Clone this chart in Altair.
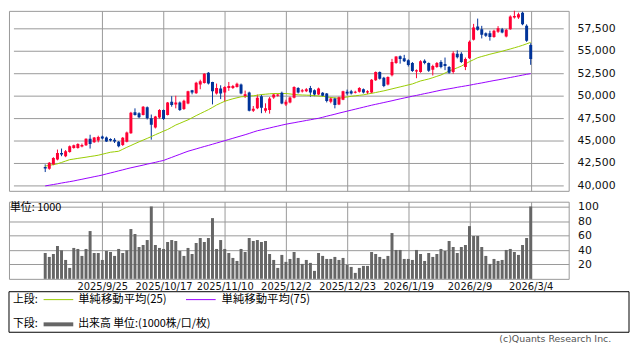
import json
import altair as alt
import pandas as pd

# ---- tick labels (trading-day index -> date) ----
tick_idx = [14, 29, 44, 59, 74, 89, 104, 119]
tick_labels = ["2025/9/25", "2025/10/17", "2025/11/10", "2025/12/2",
               "2025/12/23", "2026/1/19", "2026/2/9", "2026/3/4"]
price_ticks = [40000, 42500, 45000, 47500, 50000, 52500, 55000, 57500]
vol_ticks = [20, 40, 60, 80, 100]

opens = [
    42096, 41908, 42390, 42940, 43670, 43310, 43780, 44230, 44230, 44380,
    44520, 45260, 44850, 45070, 45515, 45400, 45220, 45150, 44930, 44560,
    44930, 45880, 48200, 48090, 47910, 48750, 47530, 46510, 47610, 48460,
    47910, 49375, 49080, 49300, 48570, 49190, 50660, 50330, 51290, 51470,
    52610, 51580, 50290, 50850, 50400, 50920, 50920, 51030, 51290, 50000,
    50400, 48380, 48640, 50000, 48380, 48460, 49850, 50040, 50370, 49080,
    49300, 49820, 50920, 50510, 50550, 50920, 50660, 50180, 50370, 50290,
    49375, 49740, 49080, 49600, 50480, 50550, 50370, 50500, 50780, 50400,
    50400, 51770, 52680, 52060, 51290, 52320, 53680, 54450, 54230, 54000,
    53700, 52750, 52680, 53950, 53680, 52950, 53240, 53790, 53570, 53240,
    52680, 54720, 54720, 53240, 54230, 56270, 57760, 57460, 57020, 57020,
    56580, 57170, 57460, 56650, 57460, 58750, 58750, 59300, 57830, 55700]
highs = [
    42393, 42660, 43200, 44050, 44160, 44000, 44500, 44600, 44750, 44720,
    45300, 45700, 45450, 45590, 45600, 45500, 45300, 45330, 45000, 45450,
    46050, 48250, 48640, 48200, 48900, 48850, 47950, 47800, 48550, 48500,
    49350, 50000, 50040, 49400, 49600, 50600, 50700, 51600, 51830, 52550,
    52680, 51600, 51400, 51210, 51100, 51580, 51250, 51500, 51400, 50620,
    50500, 48900, 50180, 50180, 49200, 49900, 50300, 50300, 50500, 49600,
    49950, 51100, 51000, 50800, 50900, 51140, 50750, 50950, 50450, 50350,
    49900, 49850, 49950, 50600, 50730, 50700, 50600, 51000, 50850, 50660,
    51900, 52750, 52750, 52150, 52200, 54150, 54450, 54530, 54600, 54100,
    53800, 52980, 54000, 54100, 53750, 53500, 53800, 54000, 54300, 53350,
    55000, 55100, 54900, 54300, 56200, 58050, 58640, 57830, 57100, 57290,
    57400, 57800, 57600, 57500, 59000, 59750, 59300, 59400, 58000, 55900]
lows = [
    41544, 41800, 42300, 42850, 43310, 43200, 43700, 44150, 44150, 44300,
    44450, 44160, 44800, 44850, 45200, 44900, 44950, 44780, 44300, 44450,
    44850, 45800, 47830, 47550, 47850, 47400, 45150, 46400, 47500, 47350,
    47850, 48824, 48640, 48350, 48460, 49100, 50200, 50250, 50770, 51400,
    51300, 49080, 50180, 49670, 49375, 50590, 50800, 50950, 50200, 49800,
    48300, 48240, 48550, 48100, 48160, 48050, 49700, 49950, 49100, 48900,
    49200, 49750, 50300, 50400, 50450, 49930, 50000, 50100, 49950, 49300,
    49200, 48640, 49000, 49550, 50110, 50180, 50300, 50400, 50300, 50220,
    50300, 51700, 51850, 51000, 51200, 52200, 53600, 53620, 53800, 53300,
    52700, 52000, 52600, 53550, 52700, 52300, 53150, 53100, 52900, 52500,
    52500, 54200, 53700, 52900, 54150, 56200, 57300, 56430, 56600, 56180,
    56500, 57050, 57000, 56550, 57400, 58640, 58600, 57900, 56050, 53490]
closes = [
    41952, 42570, 43120, 43670, 43500, 43860, 44410, 44520, 44670, 44560,
    45250, 44670, 45400, 45440, 45290, 44960, 45070, 44960, 44410, 45370,
    45960, 48160, 47910, 47640, 48820, 47540, 46800, 47720, 48460, 47440,
    49300, 49010, 49300, 48460, 49490, 50550, 50400, 51500, 51650, 52500,
    51400, 50550, 50920, 50290, 51030, 51140, 51140, 51390, 50290, 50220,
    48380, 48600, 49820, 48710, 48640, 49740, 50180, 50180, 49190, 49375,
    49850, 51030, 50400, 50660, 50780, 50400, 50180, 50840, 50040, 49450,
    49740, 49010, 49870, 50550, 50290, 50290, 50480, 50920, 50400, 50550,
    51830, 52680, 51950, 51140, 52130, 53790, 54410, 54150, 53900, 53460,
    52800, 52880, 53900, 53700, 52820, 53350, 53680, 53240, 53350, 52610,
    54780, 54340, 53790, 54150, 56070, 57650, 57400, 56840, 56730, 56580,
    57290, 57570, 57100, 57390, 58860, 58940, 59120, 58010, 56180, 54150]
volumes = [
    36, 30.5, 34.6, 45.7, 39.7, 26.3, 15.2, 43, 41.6, 31.9,
    41.6, 66.5, 36, 36, 26.3, 38.8, 37.4, 31.9, 41.6, 36,
    39.7, 69.3, 62.4, 44.3, 47.1, 54, 100.7, 47.1, 43, 41.6,
    51.3, 54, 52.7, 38.8, 31.9, 43, 34.6, 49.9, 56.8, 51.3,
    56.8, 84.5, 41.6, 54, 41.6, 36, 29.1, 24.9, 41.6, 37.4,
    56.8, 52.7, 54, 51.3, 52.7, 34.6, 26.3, 15.2, 33.3, 23.6,
    27.7, 37.4, 29.1, 20.8, 26.3, 22.2, 11.1, 36, 31.9, 27.7,
    27.7, 30.5, 26.3, 29.1, 19.4, 16.6, 8.3, 15.2, 18, 18,
    37.4, 34.6, 30.5, 27.7, 31.9, 63.7, 40.2, 40.2, 27.7, 27.7,
    26.3, 40.2, 34.6, 24.9, 36, 30.5, 34.6, 41.6, 38.8, 52.7,
    44.3, 36, 44.3, 47.1, 73.4, 59.6, 59.6, 44.3, 31.9, 20.8,
    27.7, 24.9, 26.3, 40.2, 41.6, 37.4, 33.3, 47.1, 56.8, 100.7]
ma25 = [
    42206, 42294, 42371, 42460, 42614, 42769, 42923, 42990, 43066, 43133,
    43199, 43276, 43342, 43419, 43530, 43640, 43750, 43805, 43860, 44081,
    44302, 44500, 44710, 44909, 45107, 45294, 45493, 45703, 45901, 46100,
    46287, 46530, 46784, 46971, 47170, 47357, 47589, 47831, 48052, 48272,
    48493, 48747, 49011, 49221, 49431, 49574, 49706, 49817, 49927, 49960,
    50004, 50037, 50103, 50181, 50214, 50258, 50291, 50291, 50291, 50291,
    50247, 50192, 50148, 50126, 50115, 50092, 50059, 50015, 49982, 49916,
    49850, 49806, 49762, 49839, 49905, 49982, 50037, 50092, 50148, 50236,
    50313, 50401, 50501, 50589, 50699, 50809, 50920, 51030, 51140, 51251,
    51361, 51527, 51692, 51802, 51912, 52056, 52210, 52354, 52574, 52795,
    52983, 53159, 53346, 53600, 53843, 54063, 54284, 54416, 54538, 54670,
    54780, 54891, 55001, 55133, 55254, 55387, 55519, 55663, 55828, 55994]
ma75 = [
    40000, 40077, 40154, 40232, 40320, 40397, 40474, 40552, 40651, 40739,
    40838, 40927, 41026, 41114, 41213, 41335, 41445, 41555, 41677, 41787,
    41908, 42019, 42118, 42217, 42316, 42427, 42526, 42625, 42736, 42835,
    43012, 43177, 43353, 43519, 43695, 43861, 43993, 44125, 44258, 44390,
    44511, 44644, 44776, 44908, 45041, 45173, 45305, 45438, 45570, 45703,
    45846, 46000, 46144, 46243, 46353, 46453, 46563, 46662, 46772, 46872,
    46960, 47037, 47125, 47202, 47291, 47368, 47456, 47533, 47644, 47765,
    47875, 47986, 48107, 48217, 48328, 48438, 48548, 48659, 48769, 48879,
    48990, 49089, 49188, 49287, 49387, 49486, 49596, 49695, 49795, 49894,
    49993, 50081, 50181, 50280, 50368, 50467, 50567, 50666, 50743, 50820,
    50897, 50986, 51063, 51140, 51217, 51306, 51394, 51471, 51559, 51648,
    51736, 51813, 51901, 51990, 52078, 52166, 52254, 52342, 52431, 52508]

# ---- styles ----
RED = "#ff0033"
BLUE = "#003399"
MA25_C = "#99cc00"
MA75_C = "#9900ff"
VOL_C = "#666666"
GRID = "#999999"
FONT = "DejaVu Sans"
JP = "Noto Sans CJK JP"
W_TOP = 566
X_DOMAIN = [-7.67, 127.1]

n = len(closes)
df = pd.DataFrame({
    "i": list(range(n)), "open": opens, "high": highs, "low": lows,
    "close": closes, "vol": volumes, "ma25": ma25, "ma75": ma75,
})
df["dir"] = ["up" if c >= o else "down" for o, c in zip(opens, closes)]
ptick_df = pd.DataFrame({"p": price_ticks, "lbl": [f"{v:,}" for v in price_ticks]})
# gridline extent = the full x-scale domain
ptick_df["x0"] = X_DOMAIN[0]
ptick_df["x1"] = X_DOMAIN[1]

xscale = alt.Scale(domain=X_DOMAIN, nice=False, zero=False)
pscale = alt.Scale(domain=[39450, 59500], nice=False, zero=False)
vscale = alt.Scale(domain=[0, 107.3], nice=False, zero=True)
color = alt.Color("dir:N", scale=alt.Scale(domain=["up", "down"], range=[RED, BLUE]), legend=None)

x_top_axis = alt.Axis(values=tick_idx, labels=False, ticks=False, domain=False,
                      grid=True, gridColor=GRID, gridOpacity=1, title=None)
x_top = alt.X("i:Q", scale=xscale, title=None, axis=x_top_axis)

label_expr = json.dumps(tick_labels) + "[indexof(" + json.dumps(tick_idx) + ", datum.value)]"
x_bot = alt.X("i:Q", scale=xscale, title=None,
              axis=alt.Axis(values=tick_idx, labelExpr=label_expr, ticks=False, tickSize=0,
                            domain=False, grid=True, gridColor=GRID, gridOpacity=1,
                            labelPadding=3, labelOverlap=False, labelFlush=False,
                            labelFont=FONT, labelFontSize=10, labelColor="#111", title=None))

vol_axis = alt.Axis(orient="right", values=vol_ticks, grid=True, gridColor=GRID, gridOpacity=1,
                    ticks=False, tickSize=0, domain=False, labelPadding=9,
                    labelFont=FONT, labelFontSize=11, labelColor="#111", title=None)

base = alt.Chart(df)

# price gridlines: horizontal rules spanning the x-scale domain, at each price tick
pgrid = alt.Chart(ptick_df).mark_rule(color=GRID, strokeWidth=1, opacity=1).encode(
    x=alt.X("x0:Q", scale=xscale, title=None, axis=x_top_axis),
    x2="x1:Q",
    y=alt.Y("p:Q", scale=pscale, axis=None),
)
plabels = alt.Chart(ptick_df).mark_text(
    align="left", baseline="middle", dx=9, font=FONT, fontSize=11, color="#111"
).encode(x=alt.value(W_TOP), y=alt.Y("p:Q", scale=pscale, axis=None), text="lbl:N")

wick = base.mark_rule(strokeWidth=1, clip=True).encode(
    x=x_top, y=alt.Y("low:Q", scale=pscale, axis=None), y2="high:Q", color=color)
body = base.mark_bar(size=3, clip=True).encode(
    x=x_top, y=alt.Y("open:Q", scale=pscale, axis=None), y2="close:Q", color=color)
line25 = base.mark_line(color=MA25_C, strokeWidth=1, clip=True).encode(
    x=x_top, y=alt.Y("ma25:Q", scale=pscale, axis=None))
line75 = base.mark_line(color=MA75_C, strokeWidth=1, clip=True).encode(
    x=x_top, y=alt.Y("ma75:Q", scale=pscale, axis=None))

top = alt.layer(pgrid, wick, line75, line25, body, plabels).properties(width=W_TOP, height=182)

one = pd.DataFrame({"k": [0]})


def txt(s, x, y, align="left", font=JP, size=11, col="#000"):
    return alt.Chart(one).mark_text(text=s, align=align, baseline="middle", font=font,
                                    fontSize=size, color=col).encode(x=alt.value(x), y=alt.value(y))


def seg(x1, x2, y, col, w):
    return alt.Chart(one).mark_rule(color=col, strokeWidth=w).encode(
        x=alt.value(x1), x2=alt.value(x2), y=alt.value(y))


vbars = base.mark_bar(size=3, color=VOL_C).encode(
    x=x_bot, y=alt.Y("vol:Q", scale=vscale, axis=vol_axis, title=None))

box = alt.Chart(one).mark_rect(fillOpacity=0, stroke="#000", strokeWidth=1).encode(
    x=alt.value(0), x2=alt.value(627), y=alt.value(91), y2=alt.value(132))

bottom = alt.layer(
    vbars,
    txt("単位: 1000", 1, 6),
    box,
    txt("上段:", 4, 99),
    seg(35, 65, 99, MA25_C, 1),
    txt("単純移動平均(25)", 70, 99, size=11.5),
    seg(179, 209, 99, MA75_C, 1),
    txt("単純移動平均(75)", 215, 99, size=11.5),
    txt("下段:", 4, 124),
    seg(35, 65, 124, VOL_C, 4),
    txt("出来高 単位:(1000株/口/枚)", 70, 124),
    txt("(c)Quants Research Inc.", 609, 139, align="right", font=FONT, size=9.5, col="#555"),
).properties(width=W_TOP, height=78)

chart = alt.vconcat(top, bottom, spacing=11, bounds="flush").properties(
    padding=0
).configure_view(stroke=GRID, strokeWidth=1)

chart.save("out.html", embed_options={"renderer": "svg", "actions": False})
